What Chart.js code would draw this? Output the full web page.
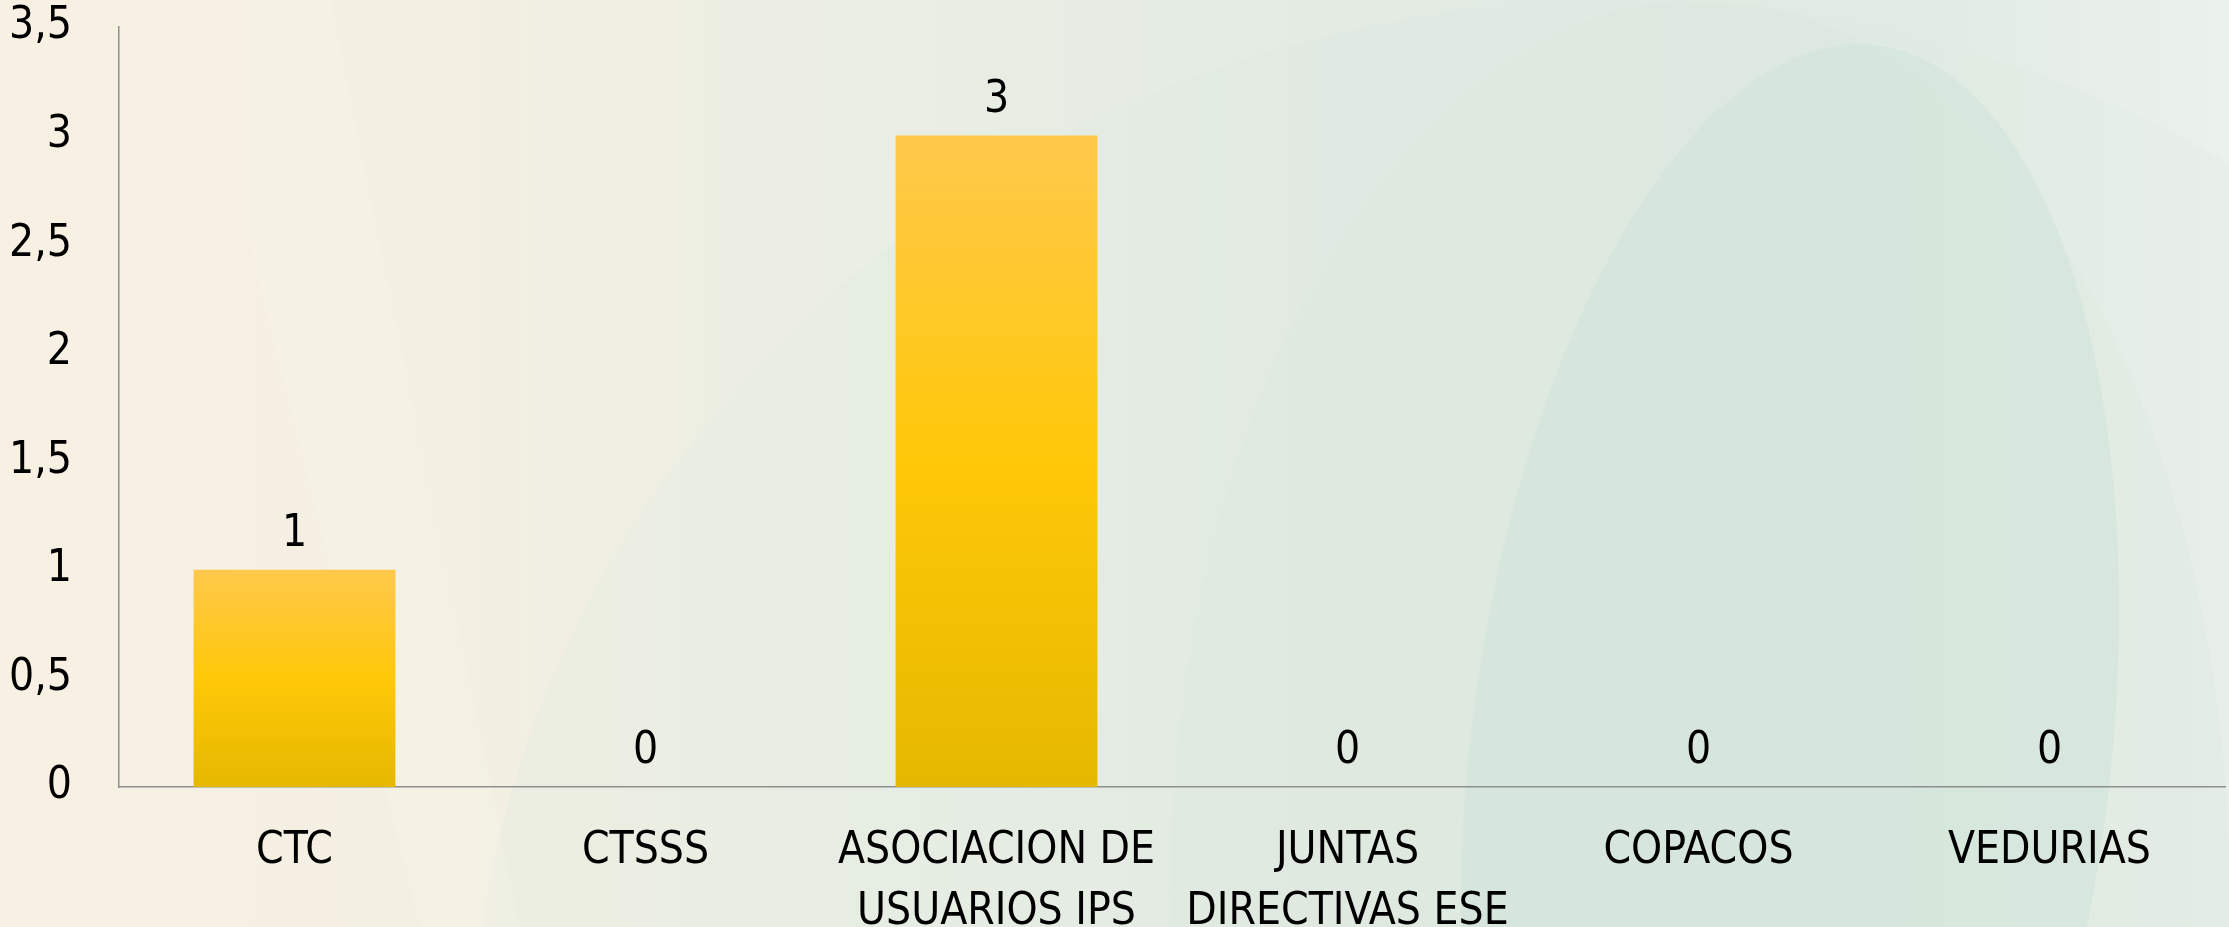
<!DOCTYPE html>
<html>
<head>
<meta charset="utf-8">
<script src="https://cdn.jsdelivr.net/npm/chart.js@4/dist/chart.umd.min.js"></script>
<style>
  html, body { margin: 0; padding: 0; width: 2229px; height: 927px; overflow: hidden; background: #eef0e6; }
  #wrap { position: relative; width: 2229px; height: 927px; }
  canvas { display: block; }
</style>
</head>
<body>
<div id="wrap"><canvas id="c" width="2229" height="927"></canvas></div>
<script>
// ---- data ----
const categories = ["CTC", "CTSSS", ["ASOCIACION DE", "USUARIOS IPS"], ["JUNTAS", "DIRECTIVAS ESE"], "COPACOS", "VEDURIAS"];
const values = [1, 0, 3, 0, 0, 0];
const yTickValues = [0, 0.5, 1, 1.5, 2, 2.5, 3, 3.5];
const yTickLabels = ["0", "0,5", "1", "1,5", "2", "2,5", "3", "3,5"];

const FONT = "'DejaVu Sans Condensed', 'Liberation Sans Narrow', sans-serif";
const FSIZE = 44;

const bgPlugin = {
  id: 'bg',
  beforeDraw(chart) {
    const ctx = chart.ctx, W = chart.width, H = chart.height;
    ctx.save();
    const g = ctx.createLinearGradient(0, 0, W, 0);
    g.addColorStop(0, '#f8f1e3');
    g.addColorStop(0.2, '#f3efe2');
    g.addColorStop(0.4, '#eaeee4');
    g.addColorStop(0.6, '#e3ebe3');
    g.addColorStop(0.85, '#e0ebe3');
    g.addColorStop(1, '#ebf1eb');
    ctx.fillStyle = g;
    ctx.fillRect(0, 0, W, H);
    // faint large arc
    ctx.beginPath();
    ctx.ellipse(1620, 1080, 1150, 1080, 0, 0, Math.PI * 2);
    ctx.fillStyle = 'rgba(215,232,220,0.18)';
    ctx.fill();
    // second faint arc
    ctx.beginPath();
    ctx.ellipse(1700, 900, 530, 900, 0, 0, Math.PI * 2);
    ctx.fillStyle = 'rgba(212,230,218,0.15)';
    ctx.fill();
    // big green ellipse right
    ctx.beginPath();
    ctx.ellipse(1790, 760, 320, 720, 0.12, 0, Math.PI * 2);
    ctx.fillStyle = 'rgba(208,228,216,0.55)';
    ctx.fill();
    // light wedge on left
    ctx.beginPath();
    ctx.moveTo(190, 0); ctx.lineTo(330, 0); ctx.lineTo(520, 927); ctx.lineTo(420, 927);
    ctx.closePath();
    ctx.fillStyle = 'rgba(255,255,250,0.12)';
    ctx.fill();
    ctx.restore();
  }
};

const valueLabelPlugin = {
  id: 'valueLabels',
  afterDatasetsDraw(chart) {
    const ctx = chart.ctx;
    const meta = chart.getDatasetMeta(0);
    ctx.save();
    ctx.font = FSIZE + 'px ' + FONT;
    ctx.fillStyle = '#000';
    ctx.textAlign = 'center';
    ctx.textBaseline = 'middle';
    meta.data.forEach((bar, i) => {
      ctx.fillText(String(values[i]).replace('.', ','), bar.x, bar.y - 35);
    });
    ctx.restore();
  }
};

function barFill(context) {
  const chart = context.chart;
  const area = chart.chartArea;
  if (!area) return '#ffc800';
  const ys = chart.scales.y;
  const v = values[context.dataIndex] || 0;
  const top = ys.getPixelForValue(v);
  const bottom = ys.getPixelForValue(0);
  if (bottom - top < 1) return '#ffc800';
  const g = chart.ctx.createLinearGradient(0, top, 0, bottom);
  g.addColorStop(0, '#ffc84b');
  g.addColorStop(0.5, '#ffc808');
  g.addColorStop(1, '#e5b800');
  return g;
}

new Chart(document.getElementById('c'), {
  type: 'bar',
  data: {
    labels: categories,
    datasets: [{
      data: values,
      backgroundColor: barFill,
      borderWidth: 0,
      categoryPercentage: 1,
      barPercentage: 0.575
    }]
  },
  options: {
    responsive: false,
    animation: false,
    devicePixelRatio: 1,
    layout: { padding: { top: 27, right: 4, left: 0, bottom: 0 } },
    plugins: { legend: { display: false }, tooltip: { enabled: false } },
    scales: {
      x: {
        grid: { display: false },
        border: { display: true, color: '#8f8f8f', width: 1.5 },
        ticks: {
          color: '#000',
          font: { family: FONT, size: FSIZE, lineHeight: 1.38 },
          padding: 26,
          maxRotation: 0,
          autoSkip: false
        },
        afterFit(s) { s.height = 140; }
      },
      y: {
        min: 0, max: 3.5,
        grid: { display: false },
        border: { display: true, color: '#8f8f8f', width: 1.5 },
        afterBuildTicks(s) { s.ticks = yTickValues.map(v => ({ value: v })); },
        ticks: {
          color: '#000',
          font: { family: FONT, size: FSIZE },
          padding: 39,
          callback(v) { const i = yTickValues.indexOf(v); return i >= 0 ? yTickLabels[i] : ''; }
        },
        afterFit(s) { s.width = 119; s.paddingTop = 20; s.paddingBottom = 20; }
      }
    }
  },
  plugins: [bgPlugin, valueLabelPlugin]
});
</script>
</body>
</html>
